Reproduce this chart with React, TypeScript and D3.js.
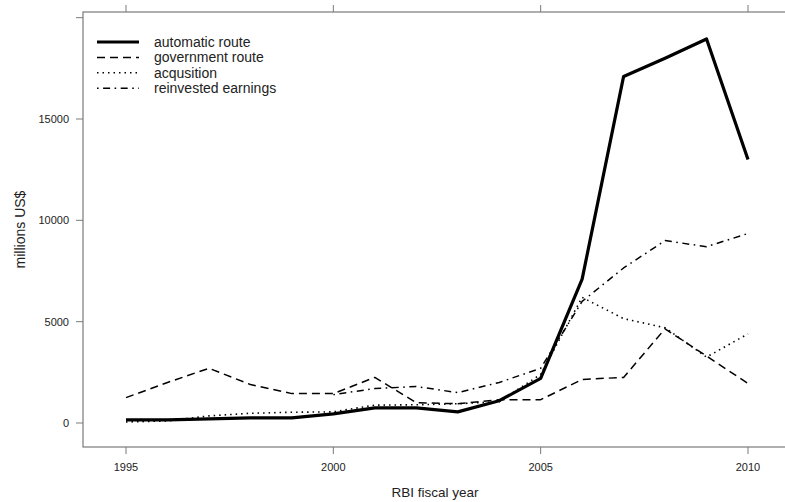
import React from "react";
import * as d3 from "d3";

const years = [1995, 1996, 1997, 1998, 1999, 2000, 2001, 2002, 2003, 2004, 2005, 2006, 2007, 2008, 2009, 2010];
const automatic = [150, 150, 200, 250, 250, 450, 750, 750, 550, 1100, 2200, 7100, 17100, 18000, 18950, 13000];
const government = [1250, 2000, 2700, 1900, 1450, 1450, 2250, 1000, 950, 1150, 1150, 2150, 2250, 4650, 3300, 1950];
const acquisition = [50, 100, 350, 480, 530, 550, 880, 900, 950, 1050, 2400, 6200, 5150, 4700, 3250, 4400];
const reinvestedYears = [2000, 2001, 2002, 2003, 2004, 2005, 2006, 2007, 2008, 2009, 2010];
const reinvested = [1400, 1700, 1800, 1500, 2000, 2700, 6000, 7650, 9000, 8700, 9350];

const xTicks = [1995, 2000, 2005, 2010];
const yTicks = [0, 5000, 10000, 15000, 20000];
const yTickLabels = ["0", "5000", "10000", "15000", ""];

const seriesNames = ["automatic route", "government route", "acqusition", "reinvested earnings"];

const W = 785;
const H = 502;
const box = { left: 83, top: 12, right: 787, bottom: 447 };

export default function App() {
  const x = d3.scaleLinear().domain([1995, 2010]).range([126, 748]);
  const y = d3.scaleLinear().domain([0, 15000]).range([423, 119]);

  const line = d3
    .line<[number, number]>()
    .x((d) => x(d[0]))
    .y((d) => y(d[1]));

  const styles = [
    { width: 3.2, dash: "none" },
    { width: 1.5, dash: "8,5" },
    { width: 1.6, dash: "1.5,4" },
    { width: 1.5, dash: "1.6,4.5,7,4.5" },
  ];

  const series: [number, number][][] = [
    years.map((yr, i) => [yr, automatic[i]] as [number, number]),
    years.map((yr, i) => [yr, government[i]] as [number, number]),
    years.map((yr, i) => [yr, acquisition[i]] as [number, number]),
    reinvestedYears.map((yr, i) => [yr, reinvested[i]] as [number, number]),
  ];

  const font = "'Liberation Sans', Arial, sans-serif";
  const axisColor = "#7a7a7a";
  const textColor = "#222";

  return (
    <svg
      width={W}
      height={H}
      style={{ position: "absolute", left: 0, top: 0, background: "#fff" }}
      fontFamily={font}
    >
      <rect x={0} y={0} width={W} height={H} fill="#fff" />
      {/* box */}
      <rect
        x={box.left}
        y={box.top}
        width={box.right - box.left}
        height={box.bottom - box.top}
        fill="none"
        stroke={axisColor}
        strokeWidth={1.2}
      />
      {/* x ticks bottom & top */}
      {xTicks.map((t) => (
        <g key={"x" + t}>
          <line x1={x(t)} x2={x(t)} y1={box.bottom} y2={box.bottom + 7} stroke={axisColor} strokeWidth={1} />
          <line x1={x(t)} x2={x(t)} y1={box.top} y2={box.top - 7} stroke={axisColor} strokeWidth={1} />
          <text x={x(t)} y={471} textAnchor="middle" fontSize={11} fill={textColor}>
            {t}
          </text>
        </g>
      ))}
      {/* y ticks */}
      {yTicks.map((t, i) => (
        <g key={"y" + t}>
          <line x1={box.left - 7} x2={box.left} y1={y(t)} y2={y(t)} stroke={axisColor} strokeWidth={1} />
          <text x={69} y={y(t) + 4} textAnchor="end" fontSize={11} fill={textColor}>
            {yTickLabels[i]}
          </text>
        </g>
      ))}
      {/* axis titles */}
      <text x={(box.left + box.right) / 2} y={497} textAnchor="middle" fontSize={13.5} fill={textColor}>
        RBI fiscal year
      </text>
      <text
        transform={`translate(25, ${(box.top + box.bottom) / 2}) rotate(-90)`}
        textAnchor="middle"
        fontSize={14}
        fill={textColor}
      >
        millions US$
      </text>
      {/* lines */}
      {series.map((s, i) => (
        <path
          key={"s" + i}
          d={line(s) || ""}
          fill="none"
          stroke="#000"
          strokeWidth={styles[i].width}
          strokeDasharray={styles[i].dash}
          strokeLinejoin="round"
        />
      ))}
      {/* legend */}
      {seriesNames.map((name, i) => {
        const ly = 42 + i * 15.4;
        return (
          <g key={"l" + i}>
            <line
              x1={97}
              x2={139}
              y1={ly}
              y2={ly}
              stroke="#000"
              strokeWidth={styles[i].width}
              strokeDasharray={styles[i].dash}
            />
            <text x={154} y={ly + 5} fontSize={14} fill={textColor}>
              {name}
            </text>
          </g>
        );
      })}
    </svg>
  );
}
